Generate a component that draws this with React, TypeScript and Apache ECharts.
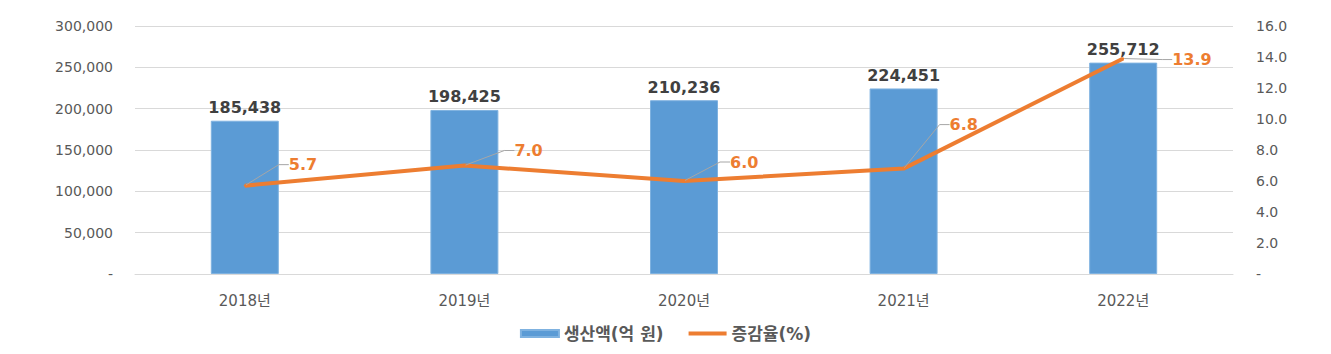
import React, { useEffect, useRef } from "react";
import * as echarts from "echarts";

const categories = ["2018년", "2019년", "2020년", "2021년", "2022년"];
const production = [185438, 198425, 210236, 224451, 255712];
const growthRate = [5.7, 7.0, 6.0, 6.8, 13.9];
const leftTickMax = 300000;
const leftTickStep = 50000;
const rightTickMax = 16;
const rightTickStep = 2;
const barName = "생산액(억 원)";
const lineName = "증감율(%)";

// label displacement (px) for the rate labels
const rateLabelShift: [number, number][] = [
  [27, -21],
  [33, -15],
  [29, -19],
  [29, -44],
  [32, 1],
];

const fmtComma = (v: number) =>
  String(Math.round(v)).replace(/\B(?=(\d{3})+(?!\d))/g, ",");

const FONT = "'DejaVu Sans', 'Noto Sans CJK KR', sans-serif";

export default function App() {
  const ref = useRef<HTMLDivElement>(null);
  useEffect(() => {
    if (!ref.current) return;
    const chart = echarts.init(ref.current, undefined, { renderer: "svg" });
    chart.setOption({
      animation: false,
      backgroundColor: "#ffffff",
      textStyle: { fontFamily: FONT },
      grid: { left: 135, right: 98, top: 26, bottom: 80 },
      legend: {
        bottom: 7,
        left: "center",
        itemWidth: 38,
        itemHeight: 7,
        itemGap: 25,
        textStyle: {
          fontFamily: FONT,
          fontSize: 17,
          fontWeight: "bold",
          color: "#595959",
        },
        data: [
          { name: barName, icon: "rect" },
          { name: lineName, icon: "path://M0 0 H38 V4 H0 Z" },
        ],
      },
      xAxis: {
        type: "category",
        data: categories,
        axisTick: { show: false },
        axisLine: { lineStyle: { color: "#d9d9d9", width: 1 } },
        axisLabel: {
          color: "#595959",
          fontSize: 15,
          margin: 19,
          fontFamily: FONT,
        },
      },
      yAxis: [
        {
          type: "value",
          min: 0,
          max: leftTickMax,
          interval: leftTickStep,
          axisLine: { show: false },
          axisTick: { show: false },
          splitLine: { lineStyle: { color: "#d9d9d9", width: 1 } },
          axisLabel: {
            color: "#595959",
            fontSize: 14,
            margin: 22,
            fontFamily: FONT,
            formatter: (v: number) => (v === 0 ? "-" : fmtComma(v)),
          },
        },
        {
          type: "value",
          min: 0,
          max: rightTickMax,
          interval: rightTickStep,
          axisLine: { show: false },
          axisTick: { show: false },
          splitLine: { show: false },
          axisLabel: {
            color: "#595959",
            fontSize: 14,
            margin: 23,
            fontFamily: FONT,
            formatter: (v: number) => (v === 0 ? "-" : v.toFixed(1)),
          },
        },
      ],
      series: [
        {
          name: barName,
          type: "bar",
          data: production,
          barWidth: 68,
          yAxisIndex: 0,
          itemStyle: {
            color: "#5b9bd5",
            borderColor: "#7fb2e0",
            borderWidth: 1,
          },
          label: {
            show: true,
            position: "top",
            distance: 5,
            fontFamily: FONT,
            fontSize: 16,
            fontWeight: "bold",
            color: "#404040",
            formatter: (p: any) => fmtComma(p.value),
          },
        },
        {
          name: lineName,
          type: "line",
          data: growthRate,
          yAxisIndex: 1,
          symbol: "circle",
          symbolSize: 2,
          showSymbol: true,
          itemStyle: { color: "#ed7d31" },
          lineStyle: { color: "#ed7d31", width: 4 },
          label: {
            show: true,
            position: "right",
            distance: 5,
            padding: [0, 0, 0, 11],
            fontFamily: FONT,
            fontSize: 16,
            fontWeight: "bold",
            color: "#ed7d31",
            formatter: (p: any) => Number(p.value).toFixed(1),
          },
          labelLayout: (params: any) => {
            const s = rateLabelShift[params.dataIndex] || [0, 0];
            return { dx: s[0], dy: s[1] };
          },
          labelLine: {
            show: true,
            length2: 10,
            lineStyle: { color: "#a6a6a6", width: 1 },
          },
          z: 5,
        },
      ],
    });
    return () => chart.dispose();
  }, []);
  return (
    <div
      ref={ref}
      style={{ position: "fixed", left: 0, top: 0, width: 1331, height: 354 }}
    />
  );
}
